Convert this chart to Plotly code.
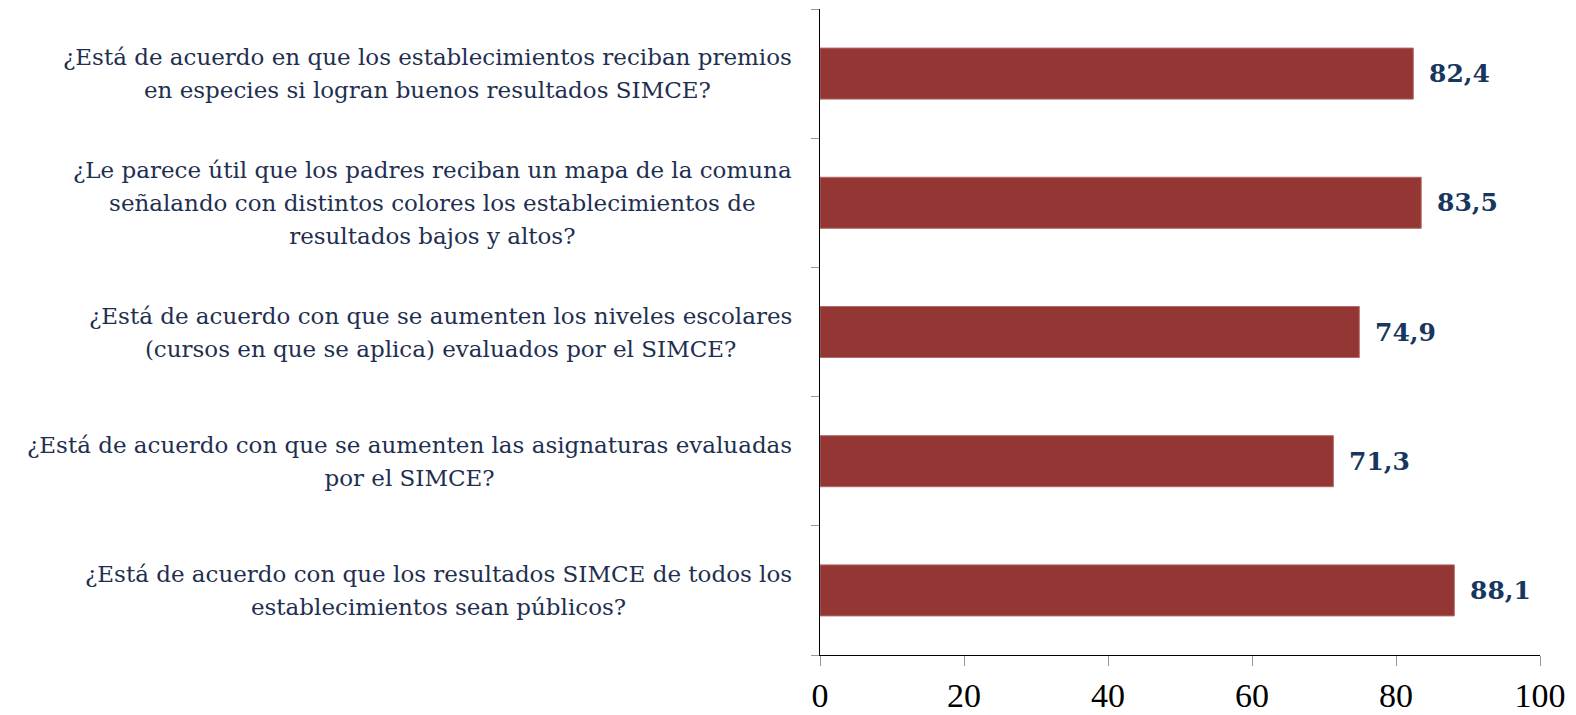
import plotly.graph_objects as go

categories = [
    "¿Está de acuerdo en que los establecimientos reciban premios<br>en especies si logran buenos resultados SIMCE?",
    "¿Le parece útil que los padres reciban un mapa de la comuna<br>señalando con distintos colores los establecimientos de<br>resultados bajos y altos?",
    "¿Está de acuerdo con que se aumenten los niveles escolares<br>(cursos en que se aplica) evaluados por el SIMCE?",
    "¿Está de acuerdo con que se aumenten las asignaturas evaluadas<br>por el SIMCE?",
    "¿Está de acuerdo con que los resultados SIMCE de todos los<br>establecimientos sean públicos?",
]
values = [82.4, 83.5, 74.9, 71.3, 88.1]
value_labels = ["82,4", "83,5", "74,9", "71,3", "88,1"]
x_ticks = [0, 20, 40, 60, 80, 100]

ids = list(range(len(categories)))

fig = go.Figure()
fig.add_trace(go.Bar(
    x=values, y=ids, orientation="h",
    marker=dict(color="#943634", line=dict(color="#b26a68", width=1)),
    width=0.395, hoverinfo="skip",
))

for i, (v, lab, cat) in enumerate(zip(values, value_labels, categories)):
    fig.add_annotation(x=v, y=i, xref="x", yref="y", text="<b>" + lab + "</b>", showarrow=False,
                       xanchor="left", yanchor="middle", xshift=14,
                       font=dict(family="DejaVu Serif", size=25, color="#17375E"))
    styled = "<br>".join('<span style="font-size:23px">%s</span>' % ln for ln in cat.split("<br>"))
    fig.add_annotation(x=-0.036, y=i, xref="paper", yref="y", text=styled, showarrow=False,
                       xanchor="right", yanchor="middle", align="center",
                       font=dict(family="DejaVu Serif", size=25.4, color="#1F2F4F"))

fig.update_layout(
    width=1568, height=707,
    margin=dict(l=812, r=36, t=1, b=51),
    plot_bgcolor="white", paper_bgcolor="white",
    showlegend=False,
    xaxis=dict(range=[0, 100], tickvals=x_ticks, ticks="outside", ticklen=10,
               tickcolor="#999999", showgrid=False, zeroline=False,
               showline=True, linecolor="black", linewidth=1,
               ticklabelstandoff=0,
               tickfont=dict(family="Liberation Serif", size=34, color="black")),
    yaxis=dict(range=[4.5, -0.5], tickvals=[-0.5, 0.5, 1.5, 2.5, 3.5, 4.5],
               showticklabels=False, ticks="outside", ticklen=8,
               tickcolor="#999999", showgrid=False, zeroline=False,
               showline=True, linecolor="black", linewidth=1),
)
fig.write_html("out.html")
